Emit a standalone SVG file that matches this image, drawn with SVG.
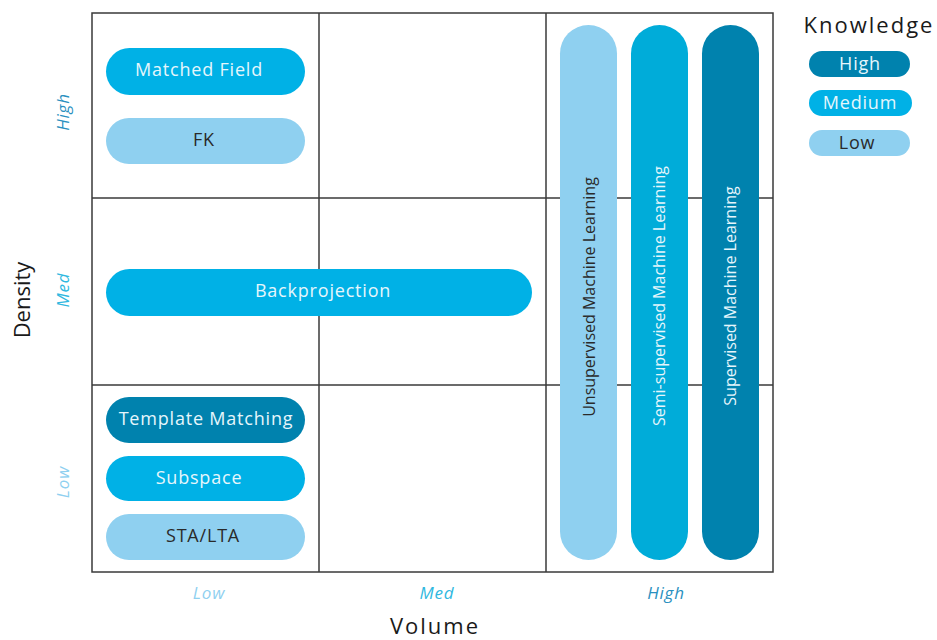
<svg xmlns="http://www.w3.org/2000/svg" width="937" height="640" viewBox="0 0 937 640">
<style>
.grid{fill:none;stroke:#3a3a3a;stroke-width:1.5}
.lo{fill:#8fd0f0}
.md{fill:#00b1e6}
.md2{fill:#00acd9}
.hi{fill:#0082ae}
.t{font-family:"Open Sans","Noto Sans",sans-serif;font-size:18px;letter-spacing:0.8px;text-anchor:middle;dominant-baseline:central}
.tl{fill:#e6f6fc}
.td{fill:#2a2a2a}
.v{font-family:"Open Sans","Noto Sans",sans-serif;font-size:16px;text-anchor:middle;dominant-baseline:central}
.ax{font-family:"Open Sans","Noto Sans",sans-serif;font-size:22px;fill:#1a1a1a;text-anchor:middle}
.lv{font-family:"Open Sans","Noto Sans",sans-serif;font-size:17px;letter-spacing:0.8px;font-style:italic;text-anchor:middle;dominant-baseline:central}
</style>
<rect width="937" height="640" fill="#ffffff"/>
<g id="grid">
<rect class="grid" x="92" y="13" width="681" height="559"/>
<line class="grid" x1="319" y1="13" x2="319" y2="572"/>
<line class="grid" x1="546" y1="13" x2="546" y2="572"/>
<line class="grid" x1="92" y1="198" x2="773" y2="198"/>
<line class="grid" x1="92" y1="385" x2="773" y2="385"/>
</g>
<g id="matched-field"><rect class="md" x="106" y="48" width="199" height="47" rx="23.5"/><text class="t tl" x="199" y="69">Matched Field</text></g>
<g id="fk"><rect class="lo" x="106" y="118" width="199" height="46" rx="23"/><text class="t td" x="204" y="139">FK</text></g>
<g id="backprojection"><rect class="md" x="106" y="269" width="426" height="47" rx="23.5"/><text class="t tl" x="323" y="290">Backprojection</text></g>
<g id="template-matching"><rect class="hi" x="106" y="397" width="199" height="46" rx="23"/><text class="t tl" x="206" y="418">Template Matching</text></g>
<g id="subspace"><rect class="md" x="106" y="456" width="199" height="45" rx="22.5"/><text class="t tl" x="199" y="477">Subspace</text></g>
<g id="sta-lta"><rect class="lo" x="106" y="514" width="199" height="46" rx="23"/><text class="t td" x="203" y="535">STA/LTA</text></g>
<g id="unsupervised"><rect class="lo" x="560" y="25" width="57" height="535" rx="28.5"/><text class="v td" transform="translate(589,297) rotate(-90)">Unsupervised Machine Learning</text></g>
<g id="semi-supervised"><rect class="md2" x="631" y="25" width="57" height="535" rx="28.5"/><text class="v tl" transform="translate(659,296) rotate(-90)">Semi-supervised Machine Learning</text></g>
<g id="supervised"><rect class="hi" x="702" y="25" width="57" height="535" rx="28.5"/><text class="v tl" transform="translate(730,296) rotate(-90)">Supervised Machine Learning</text></g>
<g id="legend">
<text class="ax" x="869" y="33" style="letter-spacing:2px">Knowledge</text>
<g id="legend-high"><rect class="hi" x="809" y="51" width="101" height="26" rx="13"/><text class="t tl" x="860" y="63">High</text></g>
<g id="legend-medium"><rect class="md" x="809" y="90" width="103" height="26" rx="13"/><text class="t tl" x="860" y="102">Medium</text></g>
<g id="legend-low"><rect class="lo" x="809" y="130" width="101" height="26" rx="13"/><text class="t td" x="857" y="142">Low</text></g>
</g>
<g id="axes">
<text class="ax" transform="translate(30,300) rotate(-90)">Density</text>
<text class="ax" x="435" y="634" style="letter-spacing:2px">Volume</text>
<text class="lv" fill="#2a90c0" transform="translate(62,112) rotate(-90)">High</text>
<text class="lv" fill="#30b8e0" transform="translate(62,290) rotate(-90)">Med</text>
<text class="lv" fill="#8fd0f0" transform="translate(62,482) rotate(-90)">Low</text>
<text class="lv" fill="#8fd0f0" x="209" y="592">Low</text>
<text class="lv" fill="#30b8e0" x="437" y="592">Med</text>
<text class="lv" fill="#2a90c0" x="666" y="592">High</text>
</g>
</svg>
